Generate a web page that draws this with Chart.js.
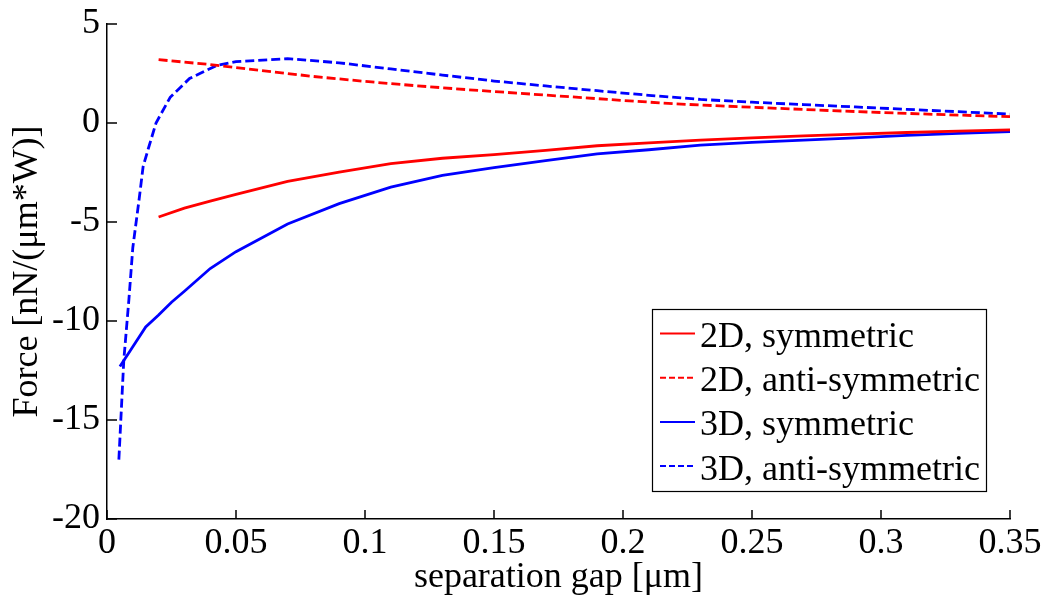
<!DOCTYPE html>
<html><head><meta charset="utf-8">
<script src="https://cdn.jsdelivr.net/npm/chart.js@4/dist/chart.umd.min.js"></script>
<style>html,body{margin:0;padding:0;background:#fff;} canvas{display:block;}</style>
</head><body>
<canvas id="c" width="1044" height="598"></canvas>
<script>
// ---- data ----
const seriesLabels = ['2D, symmetric', '2D, anti-symmetric', '3D, symmetric', '3D, anti-symmetric'];

const x2DSym = [0.02, 0.03, 0.04, 0.05, 0.07, 0.09, 0.11, 0.13, 0.15, 0.17, 0.19, 0.21, 0.23, 0.25, 0.27, 0.29, 0.31, 0.33, 0.35];
const y2DSym = [-4.75, -4.3, -3.95, -3.6, -2.95, -2.48, -2.05, -1.78, -1.6, -1.38, -1.15, -1.0, -0.87, -0.75, -0.65, -0.56, -0.48, -0.41, -0.35];

const x2DAnti = [0.02, 0.04, 0.06, 0.08, 0.1, 0.12, 0.14, 0.16, 0.18, 0.2, 0.22, 0.24, 0.26, 0.28, 0.3, 0.32, 0.35];
const y2DAnti = [3.2, 2.95, 2.65, 2.35, 2.1, 1.88, 1.68, 1.5, 1.32, 1.14, 0.97, 0.85, 0.74, 0.63, 0.53, 0.44, 0.32];

const x3DSym = [0.005, 0.01, 0.015, 0.02, 0.025, 0.03, 0.04, 0.05, 0.07, 0.09, 0.11, 0.13, 0.15, 0.17, 0.19, 0.21, 0.23, 0.25, 0.27, 0.29, 0.31, 0.33, 0.35];
const y3DSym = [-12.3, -11.3, -10.3, -9.7, -9.05, -8.5, -7.35, -6.5, -5.1, -4.07, -3.24, -2.65, -2.25, -1.9, -1.56, -1.35, -1.12, -0.98, -0.86, -0.75, -0.63, -0.52, -0.43];

const x3DAnti = [0.0046, 0.0065, 0.0085, 0.01, 0.0125, 0.014, 0.016, 0.019, 0.0245, 0.032, 0.036, 0.0425, 0.05, 0.07, 0.09, 0.11, 0.13, 0.15, 0.17, 0.19, 0.21, 0.23, 0.25, 0.27, 0.29, 0.31, 0.33, 0.35];
const y3DAnti = [-17.0, -12.0, -8.9, -6.3, -3.8, -2.2, -1.3, 0.0, 1.3, 2.25, 2.5, 2.9, 3.1, 3.25, 3.04, 2.73, 2.42, 2.12, 1.87, 1.63, 1.4, 1.19, 1.05, 0.93, 0.81, 0.69, 0.57, 0.45];

const xTickValues = [0, 0.05, 0.1, 0.15, 0.2, 0.25, 0.3, 0.35];
const xTickLabels = ['0', '0.05', '0.1', '0.15', '0.2', '0.25', '0.3', '0.35'];
const yTickValues = [-20, -15, -10, -5, 0, 5];
const yTickLabels = ['-20', '-15', '-10', '-5', '0', '5'];

const xTitle = 'separation gap [\u03bcm]';
const yTitle = 'Force [nN/(\u03bcm*W)]';

// ---- build ----
const pts = (xs, ys) => xs.map((x, i) => ({x: x, y: ys[i]}));
const RED = '#ff0000', BLUE = '#0000ff';
const FONT = 'Liberation Serif, Times New Roman, serif';
const FS = 36;

const datasets = [
  {label: seriesLabels[0], data: pts(x2DSym, y2DSym), borderColor: RED, borderDash: []},
  {label: seriesLabels[1], data: pts(x2DAnti, y2DAnti), borderColor: RED, borderDash: [9, 4]},
  {label: seriesLabels[2], data: pts(x3DSym, y3DSym), borderColor: BLUE, borderDash: []},
  {label: seriesLabels[3], data: pts(x3DAnti, y3DAnti), borderColor: BLUE, borderDash: [9, 4]}
].map(d => Object.assign(d, {borderWidth: 2.8, pointRadius: 0, tension: 0, fill: false, backgroundColor: d.borderColor}));

const matlabPlugin = {
  id: 'matlab',
  afterDraw(chart) {
    const ctx = chart.ctx, a = chart.chartArea;
    const xs = chart.scales.x, ys = chart.scales.y;
    ctx.save();
    ctx.strokeStyle = '#000';
    ctx.lineWidth = 1.5;
    ctx.setLineDash([]);
    ctx.beginPath();
    xs.ticks.forEach(t => {
      const px = xs.getPixelForValue(t.value);
      ctx.moveTo(px, a.bottom); ctx.lineTo(px, a.bottom - 9);
    });
    ys.ticks.forEach(t => {
      const py = ys.getPixelForValue(t.value);
      ctx.moveTo(a.left, py); ctx.lineTo(a.left + 10, py);
    });
    ctx.stroke();

    // legend
    const bw = 334, bh = 182;
    const bx = a.right - 358, by = a.bottom - 210;
    ctx.fillStyle = '#fff';
    ctx.fillRect(bx, by, bw, bh);
    ctx.lineWidth = 1.2;
    ctx.strokeStyle = '#000';
    ctx.strokeRect(bx + 0.5, by + 0.5, bw, bh);
    ctx.font = FS + 'px ' + FONT;
    ctx.textBaseline = 'alphabetic';
    ctx.textAlign = 'left';
    chart.data.datasets.forEach((d, i) => {
      const ly = by + 24.5 + i * 44.2;
      ctx.strokeStyle = d.borderColor;
      ctx.lineWidth = 2;
      ctx.setLineDash(d.borderDash.length ? [6, 3] : []);
      ctx.beginPath();
      ctx.moveTo(bx + 8, ly); ctx.lineTo(bx + 43, ly);
      ctx.stroke();
      ctx.setLineDash([]);
      ctx.fillStyle = '#000';
      ctx.fillText(d.label, bx + 48, ly + 13.4);
    });
    ctx.restore();
  }
};

new Chart(document.getElementById('c'), {
  type: 'line',
  data: {datasets: datasets},
  options: {
    responsive: false,
    animation: false,
    devicePixelRatio: 1,
    layout: {padding: {left: 0, right: 34, top: 24, bottom: 0}},
    plugins: {legend: {display: false}, tooltip: {enabled: false}},
    scales: {
      x: {
        type: 'linear', min: 0, max: 0.35,
        afterBuildTicks: s => { s.ticks = xTickValues.map(v => ({value: v})); },
        afterFit: s => { s.height = 79; s.paddingLeft = 0; s.paddingRight = 0; },
        ticks: {
          autoSkip: false, maxRotation: 0, padding: 3, color: '#000',
          font: {family: FONT, size: FS},
          callback: (v) => xTickLabels[xTickValues.indexOf(v)]
        },
        grid: {drawOnChartArea: false, drawTicks: false},
        border: {display: true, color: '#000', width: 1.5},
        title: {display: true, text: xTitle, color: '#000', font: {family: FONT, size: FS}, padding: {top: 0, bottom: -1}}
      },
      y: {
        type: 'linear', min: -20, max: 5,
        afterBuildTicks: s => { s.ticks = yTickValues.map(v => ({value: v})); },
        afterFit: s => { s.width = 107; s.paddingTop = 0; s.paddingBottom = 0; },
        ticks: {
          autoSkip: false, padding: 7, color: '#000',
          font: {family: FONT, size: FS},
          callback: (v) => yTickLabels[yTickValues.indexOf(v)]
        },
        grid: {drawOnChartArea: false, drawTicks: false},
        border: {display: true, color: '#000', width: 1.5},
        title: {display: true, text: yTitle, color: '#000', font: {family: FONT, size: FS}, padding: {top: 6, bottom: 0}}
      }
    }
  },
  plugins: [matlabPlugin]
});
</script>
</body></html>
